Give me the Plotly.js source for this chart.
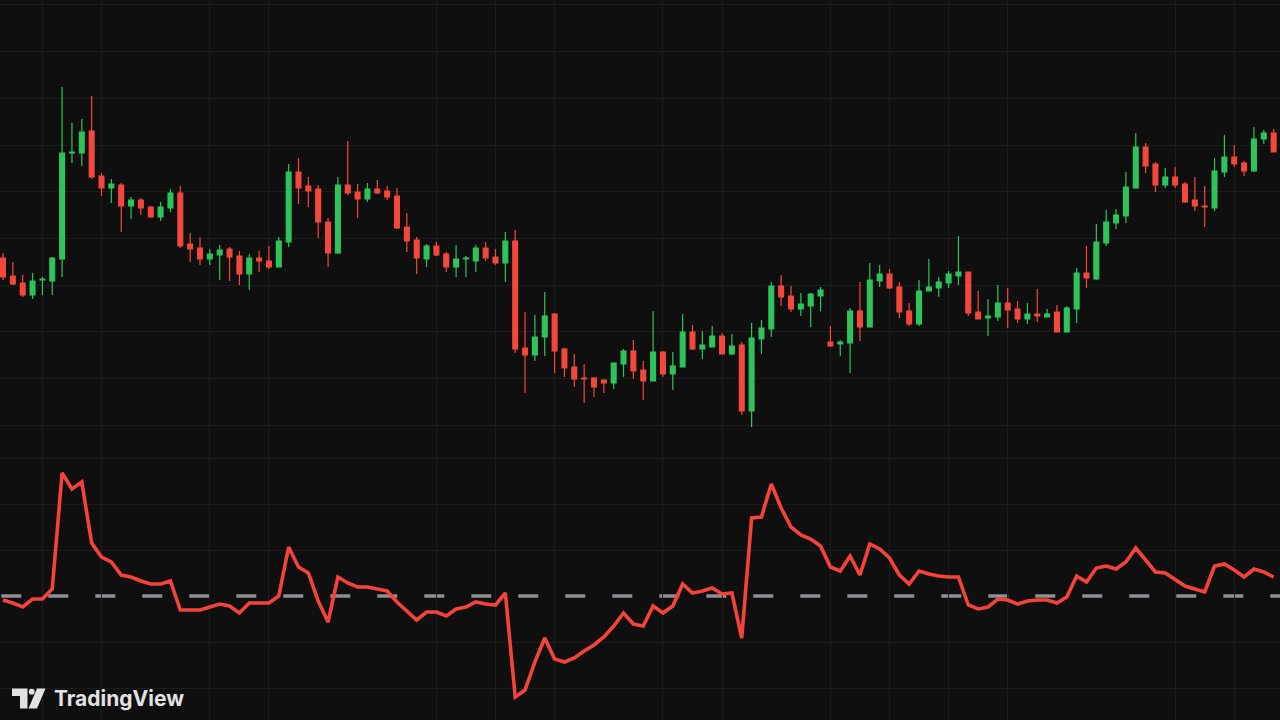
<!DOCTYPE html>
<html>
<head>
<meta charset="utf-8">
<script src="https://cdn.plot.ly/plotly-3.0.1.min.js"></script>
<style>
html,body{margin:0;padding:0;background:#0f0f0f;overflow:hidden}
#chart{width:1280px;height:720px}
</style>
</head>
<body>
<div id="chart"></div>
<script>
// ---- data (arbitrary price units) ----
const openP = [242,224,217,205,220,219,241,347,347,369, 324,312,315,294,300,293,283,292,307,256, 252,241,245,251,244,226,242,239,233,258, 328,314,311,278,247,315,308,301,311,309, 304,273,260,241,254,246,233,241,239,252, 243,237,259,152,145,163,186,151,133,122, 122,120,117,136,149,130,119,148,126,133, 168,151,153,164,146,155,89,161,171,214, 204,191,194,204,158,156,157,189,173,219, 226,213,189,176,209,212,217,224,228,188, 182,183,197,191,181,186,183,188,168,191, 227,221,257,277,284,312,353,336,315,323, 316,300,294,292,328,343,337,329,361,367];
const highP = [247,238,225,227,223,243,413,377,381,404, 327,321,317,303,302,294,298,311,314,267, 263,251,255,253,249,246,249,254,263,336, 342,323,315,282,323,359,316,317,320,314, 312,287,263,256,258,248,255,244,255,258, 251,268,270,188,185,208,187,152,146,136, 123,120,137,151,160,139,189,149,148,186, 175,169,174,167,166,158,177,180,218,225, 214,207,207,213,174,160,192,218,237,235, 231,218,197,220,241,223,229,264,228,209, 201,215,212,199,197,211,191,195,194,232, 254,276,290,291,328,367,357,338,332,333, 318,323,314,342,365,355,339,373,370,371];
const lowP = [220,215,203,201,205,205,223,337,334,321, 304,297,268,281,285,283,279,288,252,238, 235,235,220,219,215,210,228,231,233,253, 296,293,262,233,246,305,282,298,306,300, 271,248,226,233,244,228,223,223,228,239, 235,218,147,107,139,144,127,123,113,97, 103,107,111,123,121,100,119,123,110,133, 150,141,153,146,145,85,73,146,163,194, 188,184,173,189,153,144,127,159,173,213, 211,182,174,174,209,203,212,215,184,181, 164,179,172,177,176,178,183,168,168,177, 212,220,254,271,277,312,327,308,312,312, 297,289,273,289,323,333,324,328,356,348];
const closeP = [223,216,205,219,221,242,347,348,368,323, 312,316,294,300,292,283,293,307,254,251, 241,246,250,243,226,242,239,233,259,328, 312,309,278,247,315,307,301,311,307,303, 272,259,242,254,245,233,241,242,252,242, 237,259,151,145,163,184,149,132,121,121, 113,117,137,149,129,119,148,126,134,168, 151,155,164,146,154,89,162,172,214,203, 191,196,206,210,154,158,189,173,220,226, 212,188,176,209,213,218,226,228,187,181, 184,197,190,181,186,184,186,168,192,227, 222,258,278,285,313,353,334,315,323,315, 298,294,293,329,343,336,329,361,367,348];
const oscValues = [-0.4,-0.7,-1.1,-0.3,-0.3,0.7,12.3,10.7,11.4,5.3, 3.9,3.4,2.1,1.9,1.5,1.2,1.2,1.5,-1.4,-1.4, -1.4,-1.1,-0.8,-1.0,-1.7,-0.7,-0.7,-0.7,0.0,4.9, 2.9,2.3,-0.5,-2.6,1.9,1.3,0.9,0.9,0.7,0.5, -0.6,-1.5,-2.4,-1.6,-1.6,-2.0,-1.3,-1.1,-0.6,-0.8, -0.9,0.3,-10.1,-9.4,-6.6,-4.2,-6.3,-6.6,-6.2,-5.5, -4.9,-4.1,-3.0,-1.7,-2.8,-3.0,-1.0,-1.7,-1.0,1.2, 0.3,0.5,0.8,0.2,0.3,-4.2,7.8,7.9,11.2,8.8, 6.9,6.1,5.7,5.0,2.9,2.5,4.0,2.1,5.2,4.7, 3.8,2.1,1.2,2.5,2.2,2.0,1.9,1.9,-0.9,-1.3, -1.1,-0.3,-0.4,-0.8,-0.5,-0.4,-0.4,-0.7,-0.1,2.0, 1.4,2.8,3.0,2.7,3.4,4.8,3.6,2.4,2.3,1.6, 1.0,0.7,0.4,3.0,3.2,2.6,1.9,2.7,2.4,1.9];
const barIndex = openP.map((_, i) => i);
const timeGridTicks = [4,10,21,27,44,50,56,67,73,84,90,96,102,119,125];
const oscGridTicks = [-9.2,-4.6,4.6,9.2,13.8];
const oscZeroLevel = 0;

// ---- styles ----
const BG = '#0f0f0f';
const GRID = '#1c1c1c';
const UP = '#2ec45c';
const DOWN = '#f5483c';
const OSC = '#f4433a';
const ZERO = '#8f8f94';

const px = x => x / 1280;
const py = y => 1 - y / 720;
const path = pts => pts.map((p, i) => (i ? 'L' : 'M') + px(p[0]).toFixed(5) + ',' + py(p[1]).toFixed(5)).join(' ') + ' Z';

const traces = [
  {
    type: 'candlestick',
    x: barIndex, open: openP, high: highP, low: lowP, close: closeP,
    xaxis: 'x', yaxis: 'y',
    whiskerwidth: 0,
    increasing: {line: {color: UP, width: 1.2}, fillcolor: UP},
    decreasing: {line: {color: DOWN, width: 1.2}, fillcolor: DOWN},
    hoverinfo: 'skip'
  },
  {
    type: 'scatter', mode: 'lines',
    x: barIndex, y: oscValues,
    xaxis: 'x', yaxis: 'y2',
    line: {color: OSC, width: 3.6},
    hoverinfo: 'skip'
  }
];

const layout = {
  width: 1280, height: 720,
  margin: {l: 0, r: 0, t: 0, b: 0, pad: 0},
  paper_bgcolor: BG, plot_bgcolor: BG,
  showlegend: false,
  boxgap: 0.3,
  xaxis: {
    range: [-0.305, 129.645], tickvals: timeGridTicks, showticklabels: false, ticks: '',
    showgrid: true, gridcolor: GRID, gridwidth: 1, zeroline: false, showline: false,
    rangeslider: {visible: false}, fixedrange: true
  },
  yaxis: {
    domain: [0.375, 1], range: [50, 500], tick0: 355, dtick: 46.7,
    showticklabels: false, ticks: '', showgrid: true, gridcolor: GRID, zeroline: false, showline: false, fixedrange: true
  },
  yaxis2: {
    domain: [0, 0.375], range: [-12.4, 14.6], tickvals: oscGridTicks,
    showticklabels: false, ticks: '', showgrid: true, gridcolor: GRID, zeroline: false, showline: false, fixedrange: true
  },
  shapes: [
    {type: 'line', xref: 'paper', yref: 'y2', x0: 0.001, x1: 1, y0: oscZeroLevel, y1: oscZeroLevel,
     line: {color: ZERO, width: 3.4, dash: '20px,27px'}, layer: 'below'},
    {type: 'path', xref: 'paper', yref: 'paper', path: path([[12,688.5],[27.5,688.5],[27.5,708.5],[20,708.5],[20,696],[12,696]]),
     fillcolor: '#e2e2e2', line: {width: 0}},
    {type: 'circle', xref: 'paper', yref: 'paper', x0: px(28.8), x1: px(34.6), y0: py(694.6), y1: py(688.8),
     fillcolor: '#e2e2e2', line: {width: 0}},
    {type: 'path', xref: 'paper', yref: 'paper', path: path([[37,688.5],[45.5,688.5],[37,708.5],[28.5,708.5]]),
     fillcolor: '#e2e2e2', line: {width: 0}}
  ],
  annotations: [
    {xref: 'paper', yref: 'paper', x: px(52), y: py(698), xanchor: 'left', yanchor: 'middle',
     text: 'TradingView', showarrow: false,
     font: {family: 'Inter, "Open Sans", sans-serif', size: 21, color: '#e2e2e2', weight: 700}}
  ]
};

Plotly.newPlot('chart', traces, layout, {staticPlot: true, displayModeBar: false});
</script>
</body>
</html>
